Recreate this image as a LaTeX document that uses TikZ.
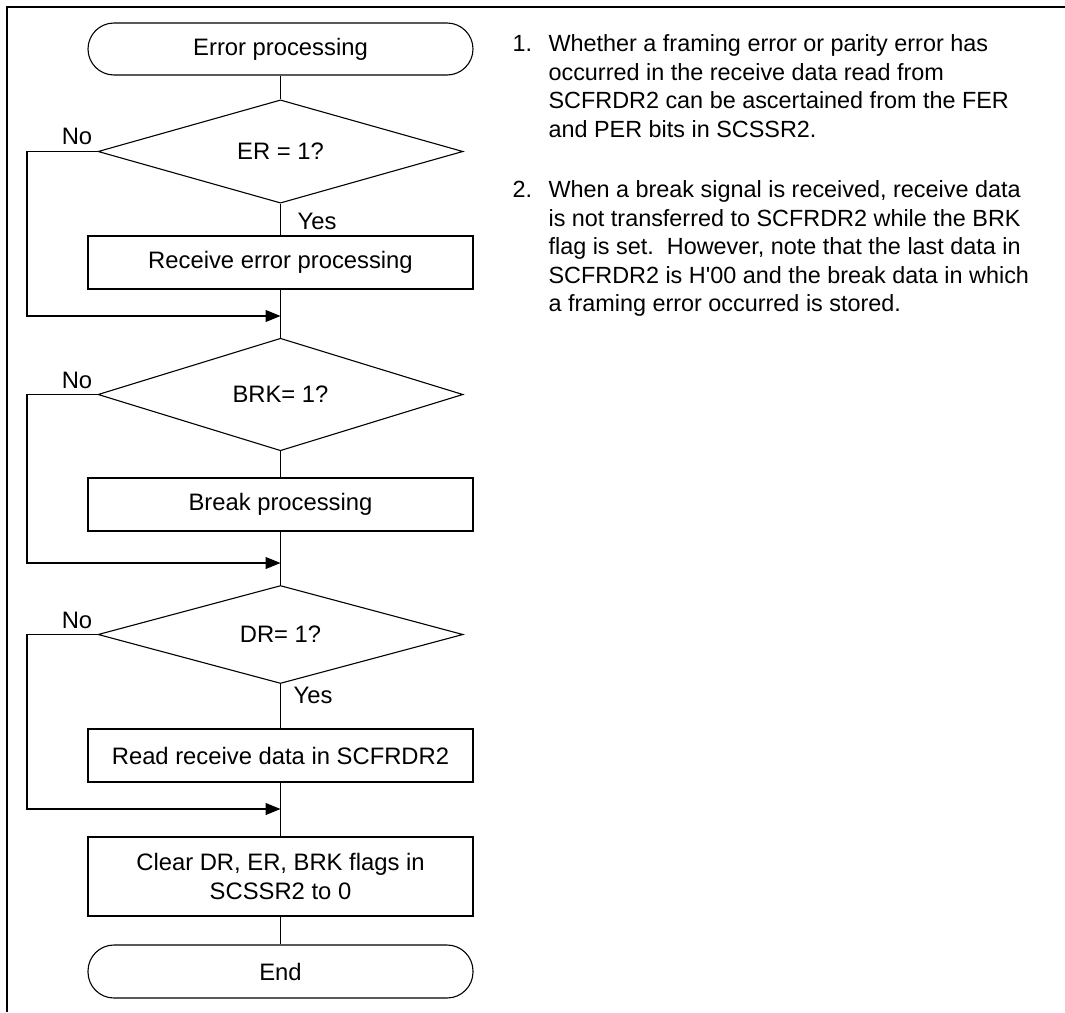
\documentclass[tikz,border=0pt]{standalone}
\usepackage{fontspec}
\setmainfont{Liberation Sans}[Ligatures=TeXOff]
\usetikzlibrary{shapes.geometric,arrows.meta}
\begin{document}
\begin{tikzpicture}[x=1pt,y=-1pt, line width=1.1pt,
  every node/.style={font=\fontsize{23.8}{28.4}\selectfont, inner sep=0pt},
  term/.style={draw, rectangle, rounded corners=26pt, minimum width=385pt, minimum height=52pt},
  procbox/.style={draw, rectangle, minimum width=385pt, minimum height=53pt, align=center},
  decide/.style={draw, diamond, minimum width=365pt, minimum height=97pt},
  notetext/.style={font=\fontsize{23.4}{28.5}\selectfont, anchor=base west, align=left},
  arr/.style={-{Triangle[length=15pt,width=12pt]}}
]
\useasboundingbox (0,0) rectangle (1065,1012);
% frame
\draw[line width=2pt] (1065,6.5) -- (6.5,6.5) -- (6.5,1012);

% flowchart nodes
\node[term] (start) at (280.5,49) {Error processing};
\node[decide] (d1) at (280.5,151.5) {ER = 1?};
\node[procbox] (b1) at (280.5,262.5) {Receive error processing};
\node[decide] (d2) at (280.5,394.5) {BRK= 1?};
\node[procbox] (b2) at (280.5,504.5) {Break processing};
\node[decide] (d3) at (280.5,634.5) {DR= 1?};
\node[procbox] (b3) at (280.5,755.5) {Read receive data in SCFRDR2};
\node[procbox, minimum height=79pt] (b4) at (280.5,876.5) {Clear DR, ER, BRK flags in\\SCSSR2 to 0};
\node[term, minimum height=53pt] (end) at (280.5,971.5) {End};

% labels
\node (no1) at (77,136) {No};
\node (no2) at (77,380) {No};
\node (no3) at (77,620) {No};
\node (yes1) at (317,221) {Yes};
\node (yes3) at (313,695) {Yes};

% merge points
\coordinate (m1) at (280.5,316);
\coordinate (m2) at (280.5,563);
\coordinate (m3) at (280.5,809);

% connectors
\draw (start) -- (d1);
\draw (d1) -- (b1);
\draw (b1) -- (d2);
\draw (d2) -- (b2);
\draw (b2) -- (d3);
\draw (d3) -- (b3);
\draw (b3) -- (b4);
\draw (b4) -- (end);
\draw[arr] (d1.west) -- (27,151.5) |- (m1);
\draw[arr] (d2.west) -- (27,394.5) |- (m2);
\draw[arr] (d3.west) -- (27,634.5) |- (m3);

% notes (base anchor of a multi-line node = last line)
\node[notetext] (n1) at (512,51.5) {1.};
\node[notetext] (t1) at (548,137) {Whether a framing error or parity error has\\occurred in the receive data read from\\SCFRDR2 can be ascertained from the FER\\and PER bits in SCSSR2.};
\node[notetext] (n2) at (512,197.5) {2.};
\node[notetext] (t2) at (548,311.5) {When a break signal is received, receive data\\is not transferred to SCFRDR2 while the BRK\\flag is set.\ \ However, note that the last data in\\SCFRDR2 is H'00 and the break data in which\\a framing error occurred is stored.};
\end{tikzpicture}
\end{document}
